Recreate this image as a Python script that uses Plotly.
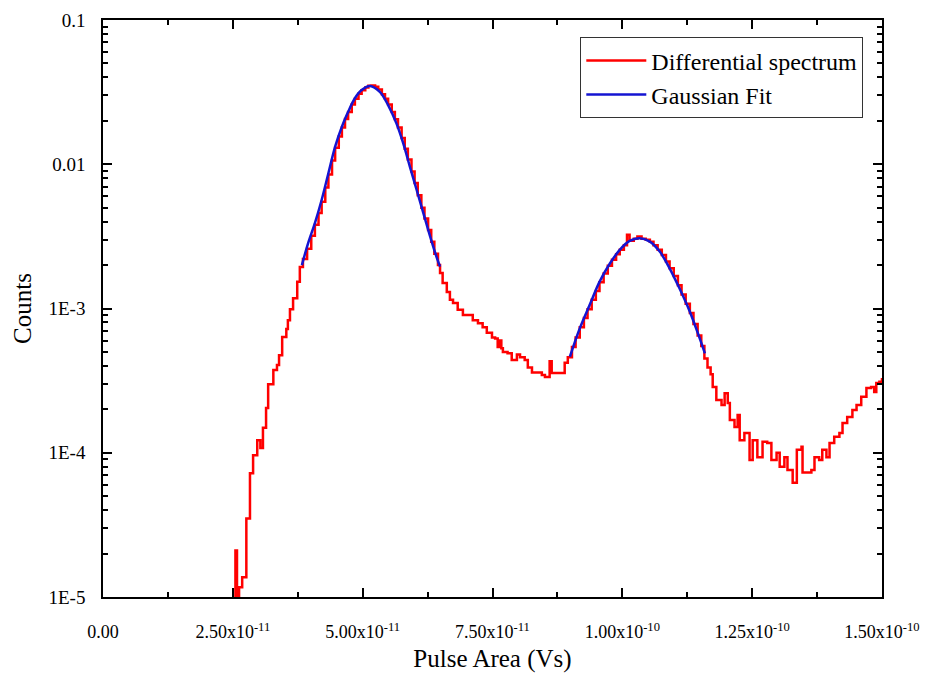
import plotly.graph_objects as go

# ---- data (pulse area in units of 1e-11 Vs, counts) ----
spectrum_x_e11 = [
    2.45, 2.52, 2.55, 2.58, 2.62, 2.68, 2.76, 2.83, 2.89, 2.97, 3.03, 3.08, 3.14, 3.18,
    3.28, 3.35, 3.39, 3.45, 3.53, 3.56, 3.60, 3.66, 3.74, 3.79,
    3.85, 3.93, 4.01, 4.08, 4.15, 4.21, 4.28, 4.34, 4.41, 4.47, 4.54, 4.60, 4.66, 4.72,
    4.79, 4.85, 4.92, 4.98, 5.05, 5.11, 5.17, 5.24, 5.30, 5.37, 5.43, 5.49, 5.56, 5.62,
    5.68, 5.75, 5.81, 5.87, 5.94, 6.00, 6.06, 6.13, 6.19, 6.26, 6.32, 6.38, 6.45,
    6.49, 6.54, 6.62, 6.68, 6.74, 6.83, 6.93, 7.12, 7.22, 7.31, 7.39, 7.49, 7.55, 7.60,
    7.64, 7.67, 7.70, 7.79, 7.87, 7.97, 8.03, 8.12, 8.18, 8.26, 8.45, 8.51, 8.60, 8.64,
    8.89,
    8.95, 9.03, 9.10, 9.18, 9.26, 9.33, 9.41, 9.49, 9.56, 9.64, 9.72, 9.80, 9.88, 9.95,
    10.03, 10.09, 10.14, 10.22, 10.29, 10.37, 10.45, 10.53, 10.60, 10.68, 10.76, 10.84,
    10.91, 10.99, 11.07, 11.14, 11.22, 11.30, 11.37, 11.45, 11.52, 11.58,
    11.64, 11.70, 11.74, 11.81, 11.91, 11.97, 12.03, 12.07, 12.16, 12.22, 12.26, 12.35,
    12.45, 12.51, 12.60, 12.70, 12.79, 12.87, 12.97, 13.03, 13.12, 13.18, 13.28, 13.36,
    13.45, 13.47, 13.64, 13.70, 13.79, 13.85, 13.93, 13.99, 14.08, 14.18, 14.24, 14.33,
    14.43, 14.51, 14.60, 14.70, 14.79, 14.85, 14.89, 14.95, 15.00,
]
spectrum_counts = [
    6e-6, 6e-6, 2.1e-5, 9e-6, 1.17e-5, 1.37e-5, 3.5e-5, 7.2e-5, 9.6e-5, 1.22e-4, 1.08e-4,
    1.49e-4, 2.04e-4, 2.99e-4, 3.74e-4, 4.06e-4, 4.75e-4, 6.34e-4, 7.2e-4, 8.3e-4, 9.9e-4,
    1.18e-3, 1.53e-3, 1.94e-3,
    2.2e-3, 2.6e-3, 3.2e-3, 3.8e-3, 4.6e-3, 5.5e-3, 6.9e-3, 8.5e-3, 1.06e-2, 1.3e-2,
    1.56e-2, 1.8e-2, 2.06e-2, 2.3e-2, 2.6e-2, 2.85e-2, 3.08e-2, 3.26e-2, 3.4e-2, 3.5e-2,
    3.52e-2, 3.44e-2, 3.3e-2, 3.06e-2, 2.85e-2, 2.6e-2, 2.3e-2, 2.05e-2, 1.8e-2, 1.52e-2,
    1.28e-2, 1.08e-2, 8.9e-3, 7.4e-3, 6.1e-3, 5.0e-3, 4.2e-3, 3.5e-3, 2.9e-3, 2.4e-3, 2.0e-3,
    1.76e-3, 1.5e-3, 1.3e-3, 1.15e-3, 1.09e-3, 9.8e-4, 9.0e-4, 8.3e-4, 7.9e-4, 7.4e-4,
    6.8e-4, 6.3e-4, 6.2e-4, 5.4e-4, 6.0e-4, 5.3e-4, 5.0e-4, 4.9e-4, 4.4e-4, 4.8e-4, 4.6e-4,
    4.4e-4, 3.9e-4, 3.6e-4, 3.46e-4, 3.35e-4, 4.3e-4, 3.57e-4, 4.2e-4,
    4.6e-4, 5.4e-4, 6.3e-4, 7.4e-4, 8.6e-4, 9.9e-4, 1.15e-3, 1.32e-3, 1.52e-3, 1.75e-3,
    1.98e-3, 2.18e-3, 2.38e-3, 2.55e-3, 2.75e-3, 3.25e-3, 2.95e-3, 3.05e-3, 3.15e-3,
    3.05e-3, 3.0e-3, 2.9e-3, 2.75e-3, 2.55e-3, 2.35e-3, 2.12e-3, 1.9e-3, 1.68e-3, 1.45e-3,
    1.25e-3, 1.08e-3, 9.3e-4, 7.8e-4, 6.5e-4, 5.5e-4, 4.5e-4,
    3.9e-4, 3.5e-4, 2.86e-4, 2.32e-4, 2.14e-4, 2.59e-4, 2.21e-4, 1.69e-4, 1.51e-4, 1.83e-4,
    1.22e-4, 1.37e-4, 8.9e-5, 1.22e-4, 9.3e-5, 1.19e-4, 1.17e-4, 8.9e-5, 1.0e-4, 8.0e-5,
    9.3e-5, 7.6e-5, 6.2e-5, 1.05e-4, 1.1e-4, 7.3e-5, 7.6e-5, 9.3e-5, 8.9e-5, 1.05e-4,
    9.3e-5, 1.17e-4, 1.29e-4, 1.37e-4, 1.61e-4, 1.77e-4, 1.98e-4, 2.14e-4, 2.44e-4,
    2.81e-4, 2.86e-4, 2.64e-4, 3.04e-4, 3.1e-4, 3.3e-4,
]

fit1_x_e11 = [3.83, 3.95, 4.08, 4.21, 4.34, 4.47, 4.60, 4.72, 4.85, 4.98, 5.14, 5.33,
              5.49, 5.65, 5.78, 5.91, 6.04, 6.17, 6.30, 6.42, 6.49]
fit1_counts = [2.0e-3, 2.84e-3, 3.91e-3, 5.65e-3, 8.66e-3, 1.323e-2, 1.82e-2, 2.31e-2,
               2.87e-2, 3.27e-2, 3.49e-2, 3.18e-2, 2.57e-2, 1.92e-2, 1.40e-2, 9.6e-3,
               6.63e-3, 4.57e-3, 3.15e-3, 2.29e-3, 1.95e-3]

fit2_x_e11 = [8.99, 9.18, 9.37, 9.56, 9.76, 9.95, 10.14, 10.33, 10.53, 10.72, 10.91,
              11.10, 11.30, 11.49, 11.59]
fit2_counts = [4.63e-4, 7.28e-4, 1.056e-3, 1.53e-3, 2.05e-3, 2.55e-3, 2.94e-3, 3.07e-3,
               2.91e-3, 2.48e-3, 1.90e-3, 1.38e-3, 9.5e-4, 6.21e-4, 4.89e-4]

x_tick_vals = [0, 2.5e-11, 5.0e-11, 7.5e-11, 1.0e-10, 1.25e-10, 1.5e-10]
x_tick_text = ["0.00", "2.50x10<sup>-11</sup>", "5.00x10<sup>-11</sup>",
               "7.50x10<sup>-11</sup>", "1.00x10<sup>-10</sup>",
               "1.25x10<sup>-10</sup>", "1.50x10<sup>-10</sup>"]
x_minor_vals = [1.25e-11, 3.75e-11, 6.25e-11, 8.75e-11, 1.125e-10, 1.375e-10]
y_tick_vals = [1e-5, 1e-4, 1e-3, 1e-2, 1e-1]
y_tick_text = ["1E-5", "1E-4", "1E-3", "0.01", "0.1"]
y_minor_vals = [k * 10.0 ** n for n in range(-5, -1) for k in range(2, 10)]

SCALE = 1e-11
FONT = "Liberation Serif, Times New Roman, serif"

fig = go.Figure()
fig.add_trace(go.Scatter(
    x=[v * SCALE for v in spectrum_x_e11], y=spectrum_counts,
    mode="lines", line=dict(color="#ff0000", width=2.5, shape="hv"),
    name="Differential spectrum"))
fig.add_trace(go.Scatter(
    x=[v * SCALE for v in fit1_x_e11], y=fit1_counts,
    mode="lines", line=dict(color="#1414d2", width=2.5, shape="spline"),
    name="Gaussian Fit"))
fig.add_trace(go.Scatter(
    x=[v * SCALE for v in fit2_x_e11], y=fit2_counts,
    mode="lines", line=dict(color="#1414d2", width=2.5, shape="spline"),
    name="Gaussian Fit", showlegend=False))

axis_common = dict(
    showline=True, linecolor="black", linewidth=1.5, mirror="ticks",
    ticks="inside", ticklen=9, tickwidth=1.5, tickcolor="black",
    showgrid=False, zeroline=False, automargin=False,
)

fig.update_layout(
    width=929, height=675,
    margin=dict(l=103, r=47, t=20, b=78),
    paper_bgcolor="white", plot_bgcolor="white",
    font=dict(family=FONT, color="black"),
    xaxis=dict(
        **axis_common, range=[0, 1.5e-10],
        tickfont=dict(family=FONT, size=18, color="black"),
        tickmode="array", tickvals=x_tick_vals, ticktext=x_tick_text,
        ticklabelstandoff=18,
        minor=dict(tickmode="array", tickvals=x_minor_vals, ticks="inside", ticklen=5,
                   tickwidth=1.5, tickcolor="black", showgrid=False),
        title=dict(text="Pulse Area (Vs)", font=dict(family=FONT, size=25), standoff=8),
    ),
    yaxis=dict(
        **axis_common, type="log", range=[-5, -1],
        tickfont=dict(family=FONT, size=19, color="black"),
        tickmode="array", tickvals=y_tick_vals, ticktext=y_tick_text,
        ticklabelstandoff=12,
        minor=dict(tickmode="array", tickvals=y_minor_vals, ticks="inside", ticklen=5,
                   tickwidth=1.5, tickcolor="black", showgrid=False),
        title=dict(text="Counts", font=dict(family=FONT, size=25), standoff=10),
    ),
    legend=dict(
        x=0.976, y=0.97, xanchor="right", yanchor="top",
        bgcolor="white", bordercolor="#333333", borderwidth=1,
        font=dict(family=FONT, size=24, color="black"),
        itemwidth=60, tracegroupgap=0,
    ),
    showlegend=True,
)

fig.write_html("out.html")
